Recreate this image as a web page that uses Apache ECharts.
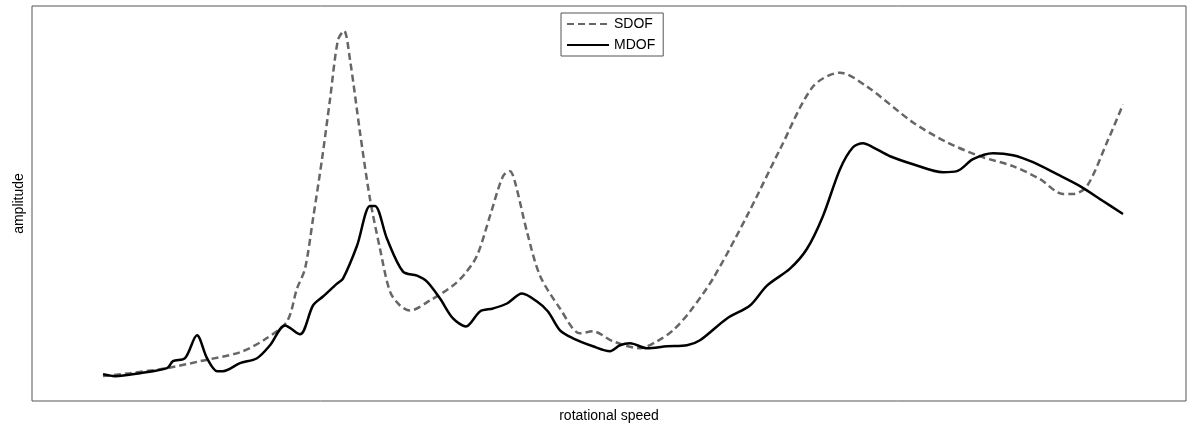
<!DOCTYPE html>
<html>
<head>
<meta charset="utf-8">
<script src="https://cdn.jsdelivr.net/npm/echarts@6/dist/echarts.min.js"></script>
<style>
  html, body { margin: 0; padding: 0; background: #fff; }
  #chart { width: 1190px; height: 428px; }
</style>
</head>
<body>
<div id="chart"></div>
<script>
// SDOF (dashed) - speed / amplitude, arbitrary units
const sdofSpeed = [71, 98, 135, 168, 208, 233, 255, 265, 273, 281, 290, 298, 306, 312, 318, 328, 338, 348, 358, 368,
  378, 398, 421, 433, 445, 458, 471, 478, 483, 495, 508, 528, 548, 561, 581, 608, 625, 641, 658, 681,
  715, 748, 781, 808, 835, 881, 915, 948, 981, 1008, 1031, 1041, 1055, 1075, 1091];
const sdofAmp = [25, 28, 33, 40, 49, 62, 80, 113, 133, 183, 243, 303, 363, 372, 343, 270, 203, 153, 110, 96,
  91, 101, 116, 128, 146, 186, 226, 231, 220, 170, 126, 93, 68, 70, 60, 53, 60, 71, 90, 123,
  186, 253, 316, 330, 316, 280, 260, 246, 236, 223, 208, 208, 216, 260, 298];

// MDOF (solid)
const mdofSpeed = [71, 83, 108, 135, 141, 153, 165, 175, 185, 191, 208, 225, 238, 253, 268, 281, 291, 305, 311, 325,
  338, 343, 355, 371, 385, 395, 408, 421, 434, 448, 461, 475, 490, 505, 516, 528, 541, 561, 578, 588,
  598, 615, 635, 655, 668, 695, 718, 735, 758, 775, 791, 808, 821, 831, 841, 858, 881, 911, 925, 941,
  961, 981, 1001, 1025, 1048, 1071, 1091];
const mdofAmp = [27, 25, 28, 33, 40, 43, 66, 43, 30, 30, 38, 43, 56, 76, 67, 96, 105, 118, 123, 156,
  196, 196, 163, 130, 126, 120, 103, 83, 75, 90, 93, 98, 108, 100, 90, 71, 63, 55, 50, 56,
  58, 53, 55, 56, 61, 83, 96, 116, 133, 153, 186, 233, 255, 259, 255, 246, 238, 230, 231, 243,
  249, 247, 240, 228, 216, 201, 188];

const zip = (xs, ys) => xs.map((x, i) => [x, ys[i]]);

const chart = echarts.init(document.getElementById('chart'));
chart.setOption({
  animation: false,
  textStyle: { fontFamily: 'Liberation Sans, Arial, sans-serif' },
  grid: {
    left: 32, right: 4, top: 6, bottom: 25,
    show: true, borderColor: '#555', borderWidth: 1, backgroundColor: '#fff'
  },
  legend: {
    orient: 'vertical',
    left: 561, top: 13,
    padding: [4, 8, 4, 5],
    itemGap: 7,
    itemWidth: 42, itemHeight: 14,
    borderColor: '#555', borderWidth: 1, borderRadius: 0,
    itemStyle: { opacity: 0 },
    textStyle: { fontSize: 14, color: '#000' },
    data: ['SDOF', 'MDOF']
  },
  xAxis: {
    type: 'value', min: 0, max: 1154,
    name: 'rotational speed', nameLocation: 'middle', nameGap: 8,
    nameTextStyle: { fontSize: 14, color: '#000' },
    axisLine: { show: false }, axisTick: { show: false },
    axisLabel: { show: false }, splitLine: { show: false }
  },
  yAxis: {
    type: 'value', min: 0, max: 397,
    name: 'amplitude', nameLocation: 'middle', nameGap: 6,
    nameTextStyle: { fontSize: 14, color: '#000' },
    axisLine: { show: false }, axisTick: { show: false },
    axisLabel: { show: false }, splitLine: { show: false }
  },
  series: [
    {
      name: 'SDOF', type: 'line', smooth: 0.3, symbol: 'none',
      data: zip(sdofSpeed, sdofAmp),
      lineStyle: { color: '#666', width: 2.5, type: [7, 4] },
      itemStyle: { color: '#666' }
    },
    {
      name: 'MDOF', type: 'line', smooth: 0.3, symbol: 'none',
      data: zip(mdofSpeed, mdofAmp),
      lineStyle: { color: '#000', width: 2.5 },
      itemStyle: { color: '#000' }
    }
  ]
});
</script>
</body>
</html>
